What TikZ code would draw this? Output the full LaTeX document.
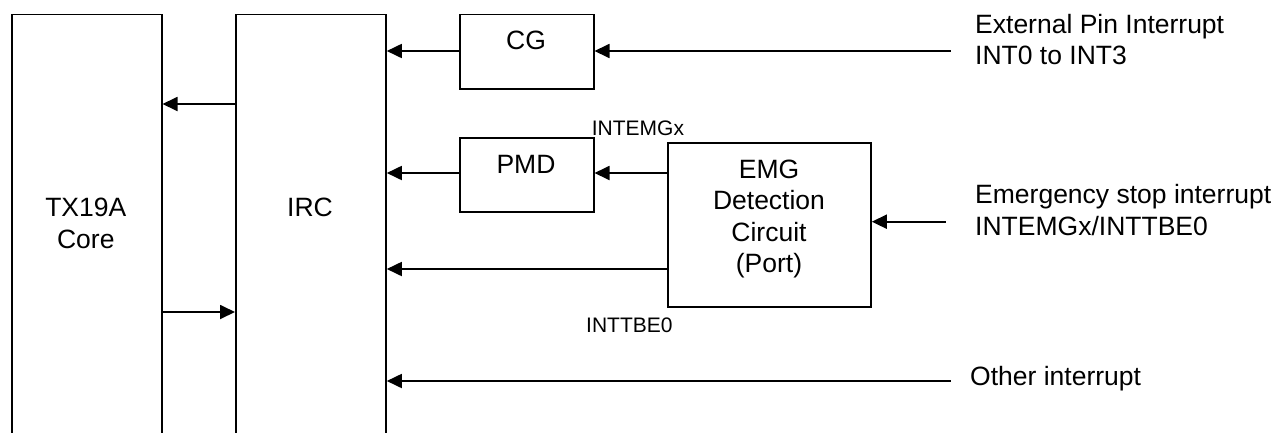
\documentclass[tikz,border=0pt]{standalone}
\usepackage{fontspec}
\setmainfont{Liberation Sans}
\usetikzlibrary{arrows.meta,calc}
\tikzset{
  blk/.style={draw, line width=1.8pt, inner sep=0pt, anchor=north west},
  lbl/.style={inner sep=0pt, font=\fontsize{26.5}{31.5}\selectfont, align=center},
  sml/.style={inner sep=0pt, font=\fontsize{21}{25}\selectfont},
  rtx/.style={inner sep=0pt, font=\fontsize{26.5}{31.5}\selectfont, align=left, anchor=west},
  arr/.style={line width=1.8pt, -{Triangle[length=15pt,width=14pt]}},
  ln/.style={line width=1.8pt}
}
\begin{document}
\begin{tikzpicture}[x=1pt,y=-1pt]
\useasboundingbox (0,0) rectangle (1278,432);
\clip (0,0) rectangle (1278,432);
% boxes
\node[blk, minimum width=149.7pt, minimum height=500pt] (core) at (11,13.5) {};
\node[blk, minimum width=150pt, minimum height=500pt] (irc) at (235,13.5) {};
\node[blk, minimum width=133.7pt, minimum height=74.5pt] (cg) at (459,13.5) {};
\node[blk, minimum width=133.7pt, minimum height=74pt] (pmd) at (459,137) {};
\node[blk, minimum width=203pt, minimum height=164.3pt] (emg) at (667,141.7) {};
% box texts
\node[lbl] (corel) at (85.8,223.4) {TX19A\\Core};
\node[lbl] (ircl) at (310,207) {IRC};
\node[lbl] (cgl) at (526,40) {CG};
\node[lbl] (pmdl) at (526,164) {PMD};
\node[lbl] (emgl) at (769,219) {EMG\\Detection\\Circuit\\(Port)};
% free ends
\coordinate (ext) at (950.7,51);
\coordinate (emgin) at (945.7,221.7);
\coordinate (oth) at (950.7,381);
% connectors
\draw[arr] (irc.west |- 0,104) -- (core.east |- 0,104);
\draw[arr] (core.east |- 0,312) -- (irc.west |- 0,312);
\draw[arr] (cg.west |- 0,51) -- (irc.east |- 0,51);
\draw[arr] (ext) -- (cg.east |- ext);
\draw[arr] (pmd.west |- 0,173) -- (irc.east |- 0,173);
\draw[arr] (emg.west |- 0,173) -- (pmd.east |- 0,173);
\draw[arr] (emg.west |- 0,269) -- (irc.east |- 0,269);
\draw[arr] (emgin) -- (emg.east |- emgin);
\draw[arr] (oth) -- (irc.east |- oth);
% labels
\node[sml, anchor=west] (intemg) at (591.7,128) {INTEMGx};
\node[sml, anchor=west] (inttbe) at (586,325) {INTTBE0};
\node[rtx] (extl) at (975,39.5) {External Pin Interrupt\\INT0 to INT3};
\node[rtx] (emgl2) at (975,210) {Emergency stop interrupt\\INTEMGx/INTTBE0};
\node[rtx, anchor=base west] (othl) at (970,385.5) {Other interrupt};
\end{tikzpicture}
\end{document}
